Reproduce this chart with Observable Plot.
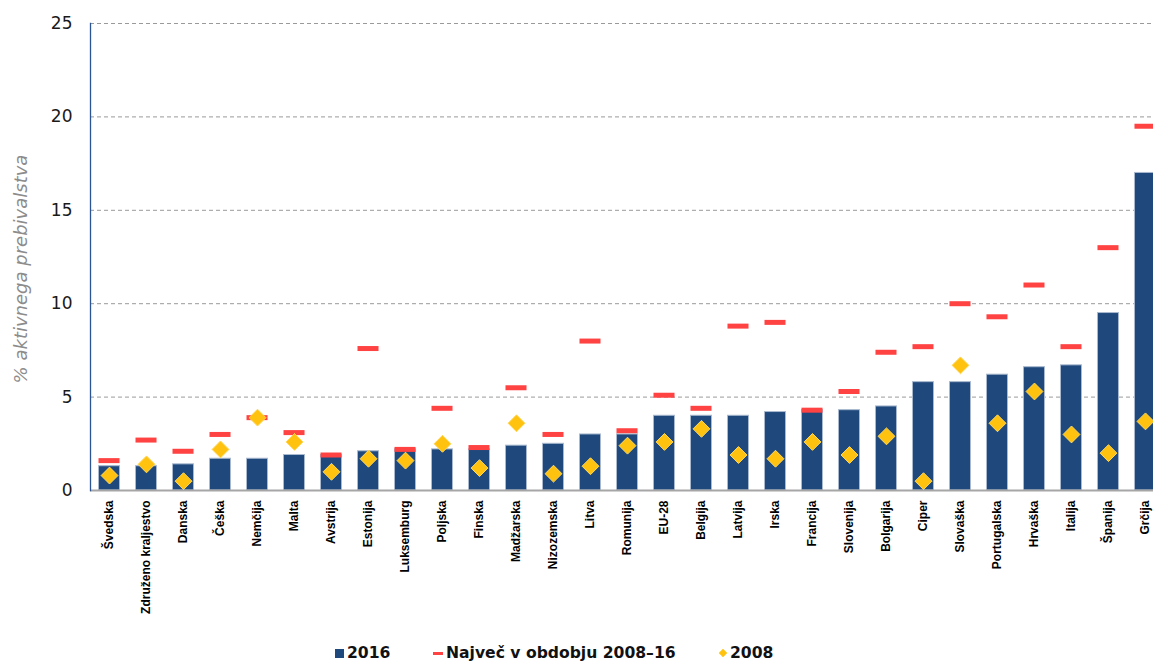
<!DOCTYPE html>
<html>
<head>
<meta charset="utf-8">
<script src="https://cdn.jsdelivr.net/npm/d3@7"></script>
<script src="https://cdn.jsdelivr.net/npm/@observablehq/plot@0.6"></script>
<style>
  html, body { margin: 0; padding: 0; background: #fff; }
  #wrap { position: relative; width: 1153px; height: 664px; overflow: hidden; }
  #chart svg { overflow: hidden; }
  #legend { position: absolute; top: 630px; left: 0; width: 1153px; height: 34px;
    font-family: "DejaVu Sans", Verdana, sans-serif; font-weight: bold; font-size: 15.6px; color: #111; }
  .item { position: absolute; top: 14px; display: flex; align-items: center; white-space: nowrap; }
  .sw { display: inline-block; margin-right: 3px; }
</style>
</head>
<body>
<div id="wrap">
  <div id="chart"></div>
  <div id="legend">
    <div class="item" style="left:335px"><span class="sw" style="width:9px;height:9px;background:#1f497d"></span>2016</div>
    <div class="item" style="left:433px"><span class="sw" style="width:10px;height:3px;background:#ff4343"></span>Največ v obdobju 2008–16</div>
    <div class="item" style="left:720px"><span class="sw" style="width:6px;height:6px;background:#ffc20e;transform:rotate(45deg);margin-right:4px"></span>2008</div>
  </div>
</div>
<script>
const countries = ["Švedska","Združeno kraljestvo","Danska","Češka","Nemčija","Malta","Avstrija","Estonija","Luksemburg","Poljska","Finska","Madžarska","Nizozemska","Litva","Romunija","EU-28","Belgija","Latvija","Irska","Francija","Slovenija","Bolgarija","Ciper","Slovaška","Portugalska","Hrvaška","Italija","Španija","Grčija"];
const values2016 = [1.3,1.3,1.4,1.7,1.7,1.9,1.9,2.1,2.2,2.2,2.2,2.4,2.5,3.0,3.0,4.0,4.0,4.0,4.2,4.3,4.3,4.5,5.8,5.8,6.2,6.6,6.7,9.5,17.0];
const valuesMax = [1.6,2.7,2.1,3.0,3.9,3.1,1.9,7.6,2.2,4.4,2.3,5.5,3.0,8.0,3.2,5.1,4.4,8.8,9.0,4.3,5.3,7.4,7.7,10.0,9.3,11.0,7.7,13.0,19.5];
const values2008 = [0.8,1.4,0.5,2.2,3.9,2.6,1.0,1.7,1.6,2.5,1.2,3.6,0.9,1.3,2.4,2.6,3.3,1.9,1.7,2.6,1.9,2.9,0.5,6.7,3.6,5.3,3.0,2.0,3.7];
const yTicks = [0,5,10,15,20,25];
const gridTicks = [5,10,15,20,25];
const yLabel = "% aktivnega prebivalstva";

const data = countries.map((c, i) => ({country: c, v2016: values2016[i], vmax: valuesMax[i], v2008: values2008[i]}));

const chart = Plot.plot({
  width: 1153,
  height: 630,
  marginTop: 23,
  marginBottom: 140,
  marginLeft: 90,
  marginRight: 0,
  style: {fontFamily: "DejaVu Sans, Verdana, sans-serif", background: "#fff"},
  x: {domain: countries, range: [90, 1164], paddingInner: 0.432, paddingOuter: 0.23, align: 0.5, round: false, label: null},
  y: {domain: [0, 25], ticks: yTicks, label: null},
  marks: [
    Plot.ruleY(gridTicks, {stroke: "#9a9a9a", strokeWidth: 1, strokeDasharray: "4,3"}),
    Plot.barY(data, {x: "country", y: "v2016", fill: "#1f497d", stroke: "#a9b9cf", strokeWidth: 1}),
    Plot.ruleY([0], {stroke: "#a6a6a6", strokeWidth: 2}),
    Plot.frame({anchor: "left", stroke: "#2a5495", strokeWidth: 1.3}),
    Plot.tickY(data, {x: "country", y: "vmax", stroke: "#ff4343", strokeWidth: 5}),
    Plot.dot(data, {x: "country", y: "v2008", symbol: "diamond2", r: 7.6, fill: "#ffc20e", stroke: "#ffd75a", strokeWidth: 1}),
    Plot.axisY({ticks: yTicks, tickSize: 0, tickPadding: 18, fontSize: 17, fill: "#1a1a1a", label: null}),
    Plot.axisX({tickRotate: -90, tickSize: 0, tickPadding: 10, fontSize: 12, fontWeight: "bold", fontFamily: "Liberation Sans, Arial, sans-serif", fill: "#000", label: null}),
    Plot.text([yLabel], {frameAnchor: "left", dx: -69, dy: 12, rotate: -90, fontSize: 18, fontStyle: "italic", fill: "#8c8c8c", textAnchor: "middle"})
  ]
});
document.getElementById("chart").appendChild(chart);
</script>
</body>
</html>
